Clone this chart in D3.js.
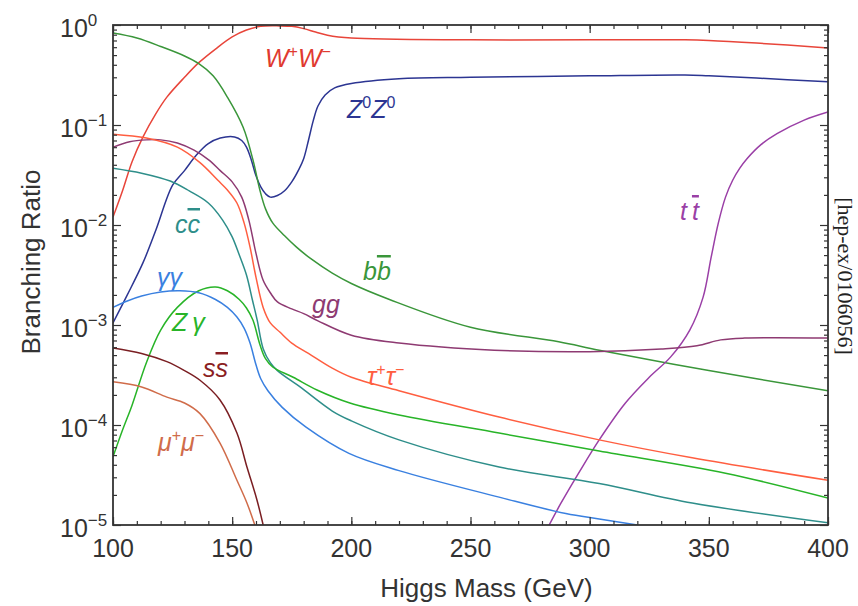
<!DOCTYPE html>
<html>
<head>
<meta charset="utf-8">
<script src="https://cdn.jsdelivr.net/npm/d3@7"></script>
<style>
  body { margin: 0; background: #fff; }
  text { font-family: "Liberation Sans", Arial, sans-serif; }
</style>
</head>
<body>
<div id="plot"></div>
<script>
// branching ratios, [Higgs mass (GeV), BR]
const ww = [[100,0.012],[104,0.022],[108,0.043],[112.6,0.076],[118,0.13],[122.6,0.19],[130,0.30],[136,0.42],[143,0.575],[150,0.76],[156,0.89],[162,0.97],[170,0.98],[175,0.97],[180,0.92],[185,0.85],[190,0.79],[200,0.74],[250,0.71],[300,0.71],[340,0.71],[350,0.70],[370,0.66],[400,0.59]];
const zz = [[100,0.00105],[106,0.002],[112.6,0.0042],[118,0.0089],[125,0.025],[130,0.035],[135,0.05],[140,0.065],[145,0.074],[151,0.076],[154,0.07],[156,0.06],[158,0.045],[160,0.031],[162,0.024],[164,0.0205],[166,0.019],[169,0.0197],[172,0.022],[175,0.027],[178,0.036],[180,0.046],[182,0.07],[184,0.11],[186,0.155],[189,0.2],[193,0.235],[200,0.26],[220,0.29],[250,0.30],[300,0.31],[340,0.316],[350,0.31],[370,0.295],[400,0.27]];
const bb = [[100,0.83],[110,0.74],[120,0.61],[130,0.49],[136,0.41],[142,0.31],[148,0.19],[154.6,0.095],[158.7,0.045],[161.7,0.022],[164,0.0145],[167,0.0105],[172,0.0078],[177,0.006],[183,0.0046],[192,0.0033],[200,0.0026],[216,0.0018],[250,0.00095],[287,0.00068],[304,0.00056],[350,0.00035],[400,0.00022]];
const tt = [[283,0.00001],[288,0.0000166],[296,0.000035],[304,0.000071],[315,0.000166],[325,0.0003],[334,0.00048],[342,0.00089],[347.6,0.0019],[351,0.0048],[354,0.0105],[357,0.019],[360,0.028],[363,0.037],[366,0.046],[372,0.064],[378.6,0.082],[390,0.112],[400,0.135]];
const gg = [[100,0.060],[107,0.068],[114,0.071],[120,0.071],[127,0.066],[134,0.056],[140,0.045],[145,0.035],[150,0.027],[154,0.019],[157,0.0112],[160,0.0052],[163,0.0028],[166,0.0021],[169,0.0017],[175,0.00145],[180,0.0013],[186,0.0011],[200,0.00079],[220,0.00066],[260,0.00056],[300,0.00054],[330,0.000575],[345,0.00062],[355,0.00071],[365,0.00074],[400,0.00074]];
const tautau = [[100,0.081],[114,0.074],[127,0.060],[136.5,0.042],[144,0.028],[148,0.0224],[152,0.0166],[155,0.0105],[157.5,0.006],[160,0.003],[163,0.0015],[166,0.00105],[170,0.00085],[175,0.00066],[182,0.00052],[192,0.00037],[200,0.0003],[220,0.00022],[262,0.00012],[304,0.000071],[343,0.000047],[400,0.000028]];
const cc = [[100,0.037],[112,0.033],[124,0.0275],[132,0.0219],[140,0.0166],[146,0.0112],[150,0.0076],[153,0.005],[156,0.00316],[158.5,0.00178],[160.5,0.00112],[163,0.00058],[166,0.00042],[169,0.00035],[178.5,0.00024],[192,0.000138],[200,0.00011],[220,0.000071],[262,0.000038],[304,0.000026],[343,0.0000166],[400,0.0000105]];
const zgamma = [[100,0.000048],[104,0.000089],[108,0.000158],[114,0.00042],[120,0.00089],[127,0.0015],[136,0.0022],[143,0.0024],[148,0.0022],[153,0.0018],[156,0.00148],[158.7,0.00112],[161.7,0.00063],[164,0.00046],[167,0.00038],[175.6,0.0003],[185.6,0.000224],[199.4,0.000166],[220,0.000126],[262,0.000083],[304,0.000055],[357,0.000033],[400,0.0000186]];
const gamgam = [[100,0.0015],[106,0.00174],[112,0.00195],[120,0.00214],[128,0.0022],[136,0.0021],[143,0.0018],[148,0.0015],[152,0.0012],[155,0.00093],[157.5,0.00066],[160,0.0004],[162,0.00029],[165,0.00022],[171,0.00015],[181,0.000095],[199,0.000052],[220,0.000035],[262,0.000019],[290,0.000013],[304,0.0000115],[320,0.00001]];
const ss = [[100,0.00059],[112,0.00052],[122.6,0.00043],[130,0.00035],[136.5,0.00028],[144.9,0.000178],[152,0.000083],[156.2,0.000038],[160.4,0.0000178],[163,0.00001]];
const mumu = [[100,0.00027],[112,0.00024],[122.6,0.00019],[130,0.000166],[136.5,0.00013],[144.9,0.000066],[152,0.000028],[156.2,0.0000166],[159.5,0.00001]];

const massTicks = [100, 150, 200, 250, 300, 350, 400];
const brExponents = [0, -1, -2, -3, -4, -5];

const series = [
  {data: ww, color: "#e8453a"},
  {data: zz, color: "#2c3592"},
  {data: bb, color: "#3a963a"},
  {data: tt, color: "#9a3fa6"},
  {data: gg, color: "#8e3a72"},
  {data: tautau, color: "#ff5e40"},
  {data: cc, color: "#2e8e8a"},
  {data: zgamma, color: "#28b428"},
  {data: gamgam, color: "#3a80e0"},
  {data: ss, color: "#7a1e22"},
  {data: mumu, color: "#d06c4a"}
];

const margin = {top: 25, right: 30, bottom: 81, left: 113},
    width = 858 - margin.left - margin.right,
    height = 606 - margin.top - margin.bottom;

const svg = d3.select("#plot")
  .append("svg")
    .attr("width", 858)
    .attr("height", 606)
  .append("g")
    .attr("transform", `translate(${margin.left}, ${margin.top})`);

const x = d3.scaleLinear().domain([100, 400]).range([0, width]);
const y = d3.scaleLog().domain([1e-5, 1]).range([height, 0]);

svg.append("defs").append("clipPath").attr("id", "clip")
  .append("rect").attr("width", width).attr("height", height);

// curves
const line = d3.line()
  .x(d => x(d[0]))
  .y(d => y(d[1]))
  .curve(d3.curveCatmullRom.alpha(0.5));

svg.append("g")
  .attr("clip-path", "url(#clip)")
  .selectAll("path")
  .data(series)
  .join("path")
    .attr("d", d => line(d.data))
    .attr("fill", "none")
    .attr("stroke", d => d.color)
    .attr("stroke-width", 1.5);

// ticks, pointing inward on all four sides
const minorMass = d3.range(100, 401, 10);
const minorBR = [];
brExponents.slice(1).forEach(e => { for (let k = 2; k <= 9; k++) minorBR.push(k * Math.pow(10, e)); });
const majorBR = brExponents.map(e => Math.pow(10, e));

function tickAxis(axis, vals, size) {
  return axis.tickValues(vals).tickSizeInner(-size).tickSizeOuter(0).tickFormat("");
}
[[d3.axisBottom(x), height, minorMass, 4], [d3.axisBottom(x), height, massTicks, 8],
 [d3.axisTop(x), 0, minorMass, 4], [d3.axisTop(x), 0, massTicks, 8]].forEach(a => {
  svg.append("g").attr("transform", `translate(0, ${a[1]})`)
    .call(tickAxis(a[0], a[2], a[3]));
});
[[d3.axisLeft(y), 0, minorBR, 4], [d3.axisLeft(y), 0, majorBR, 8],
 [d3.axisRight(y), width, minorBR, 4], [d3.axisRight(y), width, majorBR, 8]].forEach(a => {
  svg.append("g").attr("transform", `translate(${a[1]}, 0)`)
    .call(tickAxis(a[0], a[2], a[3]));
});
svg.selectAll(".domain").remove();
svg.selectAll(".tick line").attr("stroke", "#333").attr("stroke-width", 1.2);

svg.append("rect")
  .attr("width", width).attr("height", height)
  .attr("fill", "none").attr("stroke", "#333").attr("stroke-width", 1.8);

// tick labels
svg.append("g").selectAll("text")
  .data(massTicks)
  .join("text")
    .attr("x", d => x(d))
    .attr("y", height + 32)
    .attr("text-anchor", "middle")
    .attr("font-size", 25)
    .attr("fill", "#333")
    .text(d => d);

const yl = svg.append("g").selectAll("text")
  .data(brExponents)
  .join("text")
    .attr("x", 60 - margin.left)
    .attr("y", d => y(Math.pow(10, d)) + 12)
    .attr("font-size", 25)
    .attr("fill", "#333");
yl.append("tspan").text("10");
yl.append("tspan")
  .attr("dy", -11)
  .attr("font-size", 17)
  .text(d => d === 0 ? "0" : "\u2212" + (-d));

// axis titles
svg.append("text")
  .attr("x", width / 2 + 16)
  .attr("y", height + 72)
  .attr("text-anchor", "middle")
  .attr("font-size", 26)
  .attr("fill", "#333")
  .text("Higgs Mass (GeV)");

svg.append("text")
  .attr("transform", `translate(${40 - margin.left}, ${262 - margin.top}) rotate(-90)`)
  .attr("text-anchor", "middle")
  .attr("font-size", 26)
  .attr("fill", "#333")
  .text("Branching Ratio");

svg.append("text")
  .attr("transform", `translate(${838 - margin.left}, ${276 - margin.top}) rotate(90)`)
  .attr("text-anchor", "middle")
  .attr("font-size", 22)
  .attr("fill", "#222")
  .style("font-family", "'Liberation Serif', 'Times New Roman', serif")
  .text("[hep-ex/0106056]");

// curve labels, placed in page pixels; parts are [text, kind]
const labels = [
  {x: 265, y: 67, color: "#e03a30", parts: [["W", ""], ["+", "sup"], ["W", ""], ["\u2212", "sup"]]},
  {x: 347, y: 118, color: "#2c3592", parts: [["Z", ""], ["0", "sup"], ["Z", ""], ["0", "sup"]]},
  {x: 175, y: 233, color: "#2e8e8a", parts: [["c", ""], ["c", "bar"]]},
  {x: 363, y: 280, color: "#3a963a", parts: [["b", ""], ["b", "bar"]]},
  {x: 312, y: 313, color: "#8e3a72", parts: [["gg", ""]]},
  {x: 157, y: 286, color: "#3a80e0", parts: [["\u03b3\u03b3", ""]]},
  {x: 172, y: 331, color: "#28b428", parts: [["Z\u2009\u03b3", ""]]},
  {x: 203, y: 377, color: "#8a1e22", parts: [["s", ""], ["s", "bar"]]},
  {x: 367, y: 385, color: "#ff5e40", parts: [["\u03c4", ""], ["+", "sup"], ["\u03c4", ""], ["\u2212", "sup"]]},
  {x: 158, y: 451, color: "#d06c4a", parts: [["\u03bc", ""], ["+", "sup"], ["\u03bc", ""], ["\u2212", "sup"]]},
  {x: 680, y: 220, color: "#9a3fa6", parts: [["t\u2009", ""], ["t", "bar"]]}
];

const lab = svg.append("g").selectAll("text")
  .data(labels)
  .join("text")
    .attr("x", d => d.x - margin.left)
    .attr("y", d => d.y - margin.top)
    .attr("font-size", 25)
    .attr("font-style", "italic")
    .attr("fill", d => d.color);

lab.each(function(d) {
  const t = d3.select(this);
  let raised = false;
  d.parts.forEach(p => {
    const ts = t.append("tspan").text(p[0]);
    if (p[1] === "sup") {
      ts.attr("dy", raised ? 0 : -10).attr("font-size", 16).attr("font-style", "normal");
      raised = true;
    } else {
      if (raised) ts.attr("dy", 10);
      raised = false;
      if (p[1] === "bar") ts.style("text-decoration", "overline");
    }
  });
});
</script>
</body>
</html>
